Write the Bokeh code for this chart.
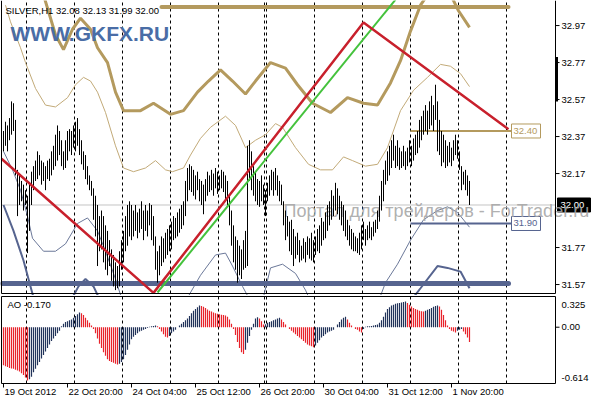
from bokeh.plotting import figure
from bokeh.models import Range1d
from bokeh.layouts import column
from bokeh.embed import file_html
from bokeh.resources import INLINE
from bokeh.core.properties import value

nan = float("nan")

# ---------------- data ----------------
highs = [
32.40,32.45,32.43,32.47,32.56,32.55,32.46,32.19,32.16,32.13,
32.11,32.08,32.05,32.11,32.18,32.21,32.24,32.29,32.27,32.24,
32.23,32.21,32.24,32.25,32.29,32.32,32.38,32.43,32.40,32.35,
32.29,32.35,32.40,32.41,32.40,32.43,32.45,32.47,32.41,32.35,
32.29,32.27,32.21,32.16,32.13,32.09,32.05,32.00,31.94,31.97,
31.94,31.89,31.86,31.81,31.76,31.73,31.69,31.67,31.75,31.81,
31.86,31.94,32.00,32.02,32.00,31.97,32.00,31.96,31.98,32.02,
31.97,32.00,31.97,32.01,32.00,31.94,31.83,31.75,31.78,31.83,
31.82,31.85,31.87,31.89,31.91,31.94,31.93,31.96,31.98,32.00,
32.02,32.13,32.20,32.22,32.21,32.19,32.16,32.18,32.14,32.13,
32.11,32.14,32.18,32.16,32.19,32.17,32.20,32.18,32.16,32.19,
32.18,32.16,32.13,32.05,31.97,31.89,31.83,31.81,31.78,31.76,
31.81,31.86,32.32,32.35,32.29,32.21,32.18,32.14,32.13,32.16,
32.11,32.08,32.12,32.16,32.19,32.18,32.20,32.16,32.13,32.11,
32.02,31.97,31.94,31.91,31.92,31.87,31.83,31.85,31.81,31.78,
31.82,31.80,31.83,31.82,31.85,31.81,31.83,31.87,31.89,31.93,
31.91,31.96,32.00,32.02,32.08,32.05,32.12,32.09,32.05,32.02,
32.00,31.97,31.92,31.89,31.87,31.85,31.83,31.82,31.85,31.89,
31.91,31.87,31.89,31.91,31.88,31.91,31.92,31.97,32.05,32.13,
32.19,32.24,32.29,32.32,32.35,32.38,32.32,32.35,32.31,32.29,
32.32,32.29,32.31,32.35,32.32,32.36,32.38,32.40,32.46,32.48,
32.51,32.54,32.51,32.56,32.59,32.54,32.65,32.56,32.46,32.40,
32.38,32.35,32.32,32.34,32.31,32.35,32.38,32.35,32.29,32.21,
32.18,32.19,32.16,32.13]
lows = [
32.29,32.32,32.29,32.35,32.38,32.40,32.16,31.94,32.00,32.02,
31.97,32.00,31.74,31.86,32.00,32.08,32.13,32.14,32.16,32.11,
32.13,32.08,32.14,32.13,32.16,32.19,32.21,32.24,32.27,32.21,
32.19,32.20,32.24,32.29,32.27,32.31,32.29,32.32,32.27,32.22,
32.19,32.14,32.11,32.08,32.05,31.92,31.83,31.67,31.75,31.76,
31.69,31.65,31.62,31.67,31.59,31.56,31.54,31.55,31.56,31.65,
31.69,31.75,31.78,31.83,31.81,31.83,31.86,31.82,31.85,31.87,
31.81,31.86,31.83,31.89,31.81,31.78,31.65,31.58,31.62,31.67,
31.69,31.71,31.73,31.75,31.76,31.81,31.82,31.83,31.85,31.87,
31.89,31.94,32.02,32.08,32.07,32.05,32.03,32.08,32.02,32.00,
31.95,32.02,32.05,32.07,32.08,32.05,32.09,32.06,32.08,32.09,
32.07,32.03,32.00,31.89,31.78,31.69,31.65,31.58,31.62,31.60,
31.65,31.66,31.67,32.13,32.08,32.05,32.02,32.00,31.99,32.02,
32.00,31.94,32.02,32.05,32.08,32.05,32.08,32.05,32.02,32.00,
31.89,31.81,31.83,31.75,31.73,31.67,31.71,31.73,31.69,31.70,
31.71,31.69,31.73,31.71,31.70,31.69,31.73,31.75,31.74,31.78,
31.81,31.82,31.86,31.89,31.92,31.94,31.97,31.95,31.92,31.89,
31.86,31.83,31.81,31.78,31.76,31.75,31.75,31.74,31.73,31.76,
31.81,31.78,31.81,31.82,31.81,31.83,31.85,31.87,31.91,31.97,
32.02,32.11,32.13,32.16,32.20,32.24,32.20,32.21,32.19,32.20,
32.21,32.19,32.21,32.23,32.21,32.24,32.27,32.28,32.31,32.35,
32.38,32.40,32.38,32.41,32.43,32.40,32.46,32.29,32.27,32.21,
32.23,32.20,32.21,32.23,32.21,32.24,32.27,32.25,32.19,32.08,
32.11,32.08,32.05,32.00]

ao = [
-0.44,-0.45,-0.46,-0.47,-0.475,-0.48,-0.49,-0.50,-0.51,
-0.53,-0.55,-0.58,-0.614,-0.60,-0.57,
-0.52,-0.48,-0.44,-0.40,-0.36,-0.32,-0.28,-0.24,-0.20,-0.16,-0.13,-0.10,-0.07,-0.04,
0.01,0.04,0.06,0.07,0.08,0.09,0.11,0.13,0.15,0.17,
0.16,0.14,0.11,0.08,0.05,0.02,
-0.02,-0.07,-0.13,-0.19,-0.24,-0.29,-0.33,-0.37,-0.39,-0.40,-0.41,-0.42,-0.43,
-0.42,-0.40,-0.37,-0.32,-0.26,-0.20,-0.14,-0.11,-0.09,-0.07,-0.05,-0.04,-0.03,-0.02,-0.01,0.005,0.01,0.015,0.02,
0.01,-0.02,-0.05,-0.08,-0.11,-0.12,
-0.10,-0.07,-0.05,-0.03,0.00,0.02,0.04,0.06,0.08,0.10,0.13,0.16,0.19,0.21,0.23,0.25,
0.245,0.235,0.22,0.205,0.19,0.18,0.17,0.16,0.155,0.15,0.145,0.14,0.135,0.12,0.09,0.04,-0.02,-0.09,-0.17,-0.24,-0.29,-0.31,
-0.26,-0.18,-0.10,-0.03,0.04,0.10,0.115,
0.10,0.07,0.03,
0.035,0.05,0.06,0.07,0.08,0.09,0.10,0.11,
0.09,0.06,0.03,0.00,-0.02,-0.04,-0.06,-0.08,-0.10,-0.12,-0.14,-0.16,-0.18,-0.20,-0.21,-0.22,-0.23,
-0.21,-0.18,-0.15,-0.12,-0.10,-0.08,-0.06,-0.05,-0.04,-0.03,0.00,0.03,0.06,0.09,0.11,0.12,
0.09,0.05,0.02,0.00,-0.02,-0.03,-0.05,-0.06,
-0.02,0.005,0.01,0.012,0.015,0.02,0.025,0.03,0.05,0.08,0.12,0.17,0.21,0.23,0.25,0.26,0.27,0.275,0.28,0.285,0.29,0.295,
0.28,0.26,0.24,0.22,0.21,0.20,0.19,0.185,0.18,
0.19,0.20,0.21,0.22,0.235,0.245,0.25,
0.24,0.20,0.14,0.08,0.02,-0.02,-0.04,-0.05,-0.06,
-0.04,-0.03,-0.02,
-0.05,-0.08,-0.12,-0.17]

# bands (bar index, price); nan = line leaves the window
thin_up_x = [1,3.5,6,8.5,11,16,21,26,32,36,40,43.5,47,51,56,60,65,71,76,81,84.5,90,93.5,98.5,103.5,111,116,121,126,131,136,139.5,146,152.5,158.5,164.5,170,174.5,181,187,192,198.5,205,212,218.5,223.5,228.5,233]
thin_up_y = [33.08,32.99,32.92,32.85,32.77,32.63,32.54,32.53,32.58,32.65,32.69,32.67,32.61,32.50,32.32,32.20,32.18,32.20,32.24,32.19,32.18,32.20,32.27,32.36,32.42,32.48,32.43,32.31,32.35,32.38,32.44,32.42,32.31,32.22,32.19,32.19,32.26,32.24,32.21,32.22,32.31,32.51,32.62,32.69,32.76,32.75,32.71,32.64]
thick_up_x = [18.5,26,30,34.5,38.5,43.5,47,52,56,60,68.5,75,83.5,90,97,102.5,108.5,114.5,121,126,133.5,141,147,154.5,163.5,172,180,187,193.5,198.5,203.5,208.5,213.5,222.5,227.5,233]
thick_up_y = [33.19,32.92,32.84,32.95,33.01,32.95,32.85,32.77,32.61,32.51,32.51,32.55,32.49,32.51,32.61,32.67,32.73,32.67,32.60,32.67,32.77,32.74,32.65,32.55,32.50,32.58,32.55,32.54,32.66,32.78,32.94,33.08,33.16,33.16,33.05,32.96]
thin_lo_x = [0,4.5,8.5,12,14.5,20,26,31,37,42,47,51,56,59.5,nan,91,98.5,106,111,114.5,119.5,123.5,nan,129.5,133.5,139.5,146,151,153.5,nan,187.5,191,197,203.5,210,217,222,227,233]
thin_lo_y = [32.29,32.19,32.08,31.94,31.82,31.75,31.75,31.79,31.90,31.93,31.86,31.75,31.60,31.48,nan,31.48,31.62,31.73,31.74,31.67,31.56,31.48,nan,31.48,31.66,31.68,31.63,31.54,31.48,nan,31.48,31.58,31.68,31.81,31.92,31.97,31.99,31.96,31.88]
thick_lo_x = [0,5,10,13.5,15.5,nan,33.5,37.5,41,45,48.5,nan,203.5,208.5,217,222,228.5,233]
thick_lo_y = [32.00,31.86,31.70,31.56,31.48,nan,31.48,31.56,31.60,31.56,31.48,nan,31.48,31.55,31.67,31.66,31.64,31.55]

red_x = [-1, 75, 180, 252.5]
red_y = [32.25, 31.525, 32.986, 32.41]
green_x = [77, 196]
green_y = [31.527, 33.11]

top_level = 33.07
bottom_level = 31.575
res_level = 32.40
sup_level = 31.90
last_close = 32.00
ao_last = -0.170
ao_max_label = 0.325
ao_min_label = -0.614

price_ticks = [31.57, 31.77, 32.17, 32.37, 32.57, 32.77, 32.97]
day_starts = [12, 36, 60, 84, 108, 131, 132, 156, 180, 204, 228, 252]
time_ticks = [0, 32, 64, 96, 128, 160, 192, 224]
time_labels = ["19 Oct 2012", "22 Oct 20:00", "24 Oct 04:00", "25 Oct 12:00",
               "26 Oct 20:00", "30 Oct 04:00", "31 Oct 12:00", "1 Nov 20:00"]
header = "SILVER,H1  32.08 32.13 31.99 32.00"

# ---------------- style / geometry ----------------
FONT = value("Liberation Sans")
FS = value("9.5px")
TAN_THICK = "#b49a5e"
TAN_THIN = "#c2aa78"
BLUE_THICK = "#56648f"
BLUE_THIN = "#6b7899"
RED = "#c8202c"
GREEN = "#44c23c"
AO_UP = "#22335a"
AO_DN = "#e8232b"

W, H = 596, 400
def xi(px):            # screen column -> bar-index coordinate (2 px per bar)
    return (px - 3.0) / 2.0

XR = Range1d(xi(0), xi(W))
LEFT, RIGHT = xi(1), xi(555)

PTOP, PBOT = 33.10, 31.527
MAIN_H = 295
PY = 185.0                      # px per price unit

n = len(highs)
idx = list(range(n))

# ---------------- main panel ----------------
p = figure(width=W, height=MAIN_H, x_range=XR,
           y_range=Range1d(PBOT - 3.0 / PY, PTOP + 1.0 / PY),
           x_axis_type=None, y_axis_type=None, output_backend="svg", toolbar_location=None,
           min_border_left=0, min_border_right=0, min_border_top=0, min_border_bottom=0)
p.outline_line_color = None
FB = PBOT - 1.0 / PY            # frame bottom line

p.segment(x0=[d - 0.5 for d in day_starts], y0=FB, x1=[d - 0.5 for d in day_starts], y1=PTOP + 1.0 / PY,
          line_color="black", line_dash="3 3", line_width=1)
p.segment(x0=[LEFT], y0=[last_close], x1=[RIGHT], y1=[last_close], line_color="#c4c4c4", line_width=1)

p.line(thin_up_x, thin_up_y, line_color=TAN_THIN, line_width=1)
p.line(thick_up_x, thick_up_y, line_color=TAN_THICK, line_width=3)
p.line(thin_lo_x, thin_lo_y, line_color=BLUE_THIN, line_width=1)
p.line(thick_lo_x, thick_lo_y, line_color=BLUE_THICK, line_width=2)

p.segment(x0=[79], y0=[top_level], x1=[252.5], y1=[top_level], line_color=TAN_THICK,
          line_width=4, line_cap="round")
p.segment(x0=[-0.5], y0=[bottom_level], x1=[252.5], y1=[bottom_level], line_color=BLUE_THICK,
          line_width=5, line_cap="round")
p.segment(x0=[203.5], y0=[res_level], x1=[xi(511)], y1=[res_level], line_color=TAN_THICK, line_width=2)
p.segment(x0=[203.5], y0=[sup_level], x1=[xi(511)], y1=[sup_level], line_color=BLUE_THICK, line_width=2)

# level boxes
for lv, col in ((res_level, TAN_THICK), (sup_level, BLUE_THICK)):
    p.quad(left=[xi(511)], right=[xi(540)], top=[lv + 7 / PY], bottom=[lv - 7 / PY],
           fill_color="white", line_color=col, line_width=1)
    p.text(x=[xi(513)], y=[lv], text=[f"{lv:.2f}"], text_font=FONT, text_font_size=FS,
           text_color=col, text_baseline="middle", text_align="left")

# current price box on the scale
p.quad(left=[xi(557)], right=[xi(590)], top=[last_close + 7 / PY], bottom=[last_close - 7 / PY],
       fill_color="black", line_color="black")
p.text(x=[xi(560)], y=[last_close], text=[f"{last_close:.2f}"], text_font=FONT, text_font_size=FS,
       text_color="white", text_baseline="middle", text_align="left")

p.text(x=[xi(283)], y=[31.965], text=["Портал для трейдеров - ForTrader.ru"], text_font=FONT,
       text_font_size=value("18px"), text_color="#a6a6a6", text_alpha=0.9,
       text_baseline="middle", text_align="left")

p.segment(x0=idx, y0=lows, x1=idx, y1=highs, line_color="black", line_width=1)

p.line(green_x, green_y, line_color=GREEN, line_width=2)
p.line(red_x, red_y, line_color=RED, line_width=2.5)

# frame
p.segment(x0=[LEFT, RIGHT, LEFT], y0=[FB, FB, FB], x1=[LEFT, RIGHT, RIGHT],
          y1=[PTOP + 1.0 / PY, PTOP + 1.0 / PY, FB], line_color="black", line_width=1)
p.segment(x0=[RIGHT + 0.5], y0=[32.56], x1=[RIGHT + 0.5], y1=[32.80], line_color="black", line_width=3)

# price scale
p.segment(x0=[RIGHT] * len(price_ticks), y0=price_ticks, x1=[xi(559)] * len(price_ticks), y1=price_ticks,
          line_color="black", line_width=1)
p.text(x=[xi(561)] * len(price_ticks), y=price_ticks, text=[f"{t:.2f}" for t in price_ticks],
       text_font=FONT, text_font_size=FS, text_color="black", text_baseline="middle", text_align="left")

p.text(x=[xi(5)], y=[PTOP - 9 / PY], text=[header], text_font=FONT, text_font_size=FS,
       text_color="black", text_baseline="middle", text_align="left")
p.text(x=[xi(10)], y=[PTOP - 32 / PY], text=["WWW.GKFX.RU"], text_font=FONT,
       text_font_size=value("21px"), text_font_style="bold", text_color="#4a6da6",
       text_baseline="middle", text_align="left")

# ---------------- AO panel ----------------
AO_LO, AO_HI = -0.649, 0.354
AO_H = H - MAIN_H
PPU = 87.0 / (AO_HI - AO_LO)
q = figure(width=W, height=AO_H, x_range=XR,
           y_range=Range1d(AO_LO - 17.0 / PPU, AO_HI + 1.0 / PPU),
           x_axis_type=None, y_axis_type=None, output_backend="svg", toolbar_location=None,
           min_border_left=0, min_border_right=0, min_border_top=0, min_border_bottom=0)
q.outline_line_color = None

q.segment(x0=[d - 0.5 for d in day_starts], y0=AO_LO, x1=[d - 0.5 for d in day_starts], y1=AO_HI,
          line_color="black", line_dash="3 3", line_width=1)

colors = [AO_DN] + [AO_UP if ao[k] > ao[k - 1] else AO_DN for k in range(1, n)]
q.segment(x0=idx, y0=[0] * n, x1=idx, y1=ao, line_color=colors, line_width=1.2)

q.segment(x0=[LEFT, RIGHT, LEFT, LEFT], y0=[AO_LO, AO_LO, AO_HI, AO_LO],
          x1=[LEFT, RIGHT, RIGHT, RIGHT], y1=[AO_HI, AO_HI, AO_HI, AO_LO],
          line_color="black", line_width=1)
q.segment(x0=[RIGHT], y0=[0], x1=[xi(559)], y1=[0], line_color="black", line_width=1)
q.text(x=[xi(561)] * 3, y=[0.26, 0.0, -0.58],
       text=[f"{ao_max_label:.3f}", "0.00", f"{ao_min_label:.3f}"],
       text_font=FONT, text_font_size=FS, text_color="black", text_baseline="middle", text_align="left")
q.text(x=[xi(7)], y=[0.26], text=[f"AO {ao_last:.3f}"], text_font=FONT, text_font_size=FS,
       text_color="black", text_baseline="middle", text_align="left")

q.segment(x0=time_ticks, y0=AO_LO, x1=time_ticks, y1=AO_LO - 4.0 / PPU, line_color="black", line_width=1)
q.text(x=[t + 0.5 for t in time_ticks], y=AO_LO - 8.0 / PPU, text=time_labels, text_font=FONT,
       text_font_size=FS, text_color="black", text_baseline="middle", text_align="left")

layout = column(p, q, spacing=0)
open("out.html", "w").write(file_html(layout, INLINE))
